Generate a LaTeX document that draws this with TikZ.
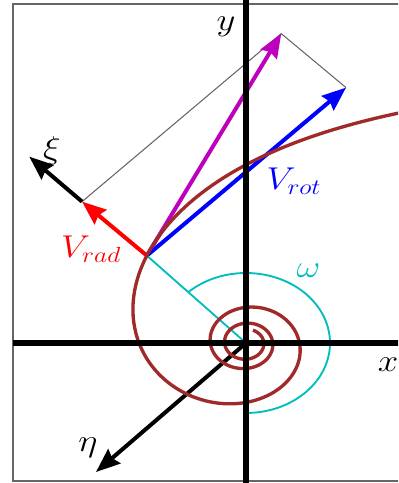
\documentclass[tikz,border=0pt]{standalone}
\usepackage{tikz}
\usepackage{xcolor}
\usetikzlibrary{arrows.meta, calc}
\definecolor{spiralRed}{RGB}{160,42,42}
\definecolor{omegaCyan}{RGB}{0,190,190}
\definecolor{sumMagenta}{RGB}{190,0,190}
\newcommand{\widelbl}[1]{\scalebox{1.33}[1.14]{#1}}

\begin{document}
\begin{tikzpicture}[x=90pt, y=75pt,
  vec/.style={line width=3pt, -{Stealth[length=18pt, width=14pt, inset=2pt]}},
  axis/.style={line width=4.2pt},
  guide/.style={line width=0.8pt, black!60},
  lbl/.style={font=\huge, inner sep=0pt},
]
  \useasboundingbox (-2.05,-1.40) rectangle (1.267,3.43);
  \clip (-2.05,-1.40) rectangle (1.267,3.43);
  \draw[line width=1pt, black!60] (-1.942,-1.38) rectangle (1.5,3.39);

  \coordinate (O) at (0,0);
  \coordinate (P) at (133.4:1.2026);
  \coordinate (radTip) at ($(P)+(-0.54,0.54)$);
  \coordinate (rotTip) at ($(P)+(1.66,1.68)$);
  \coordinate (sumTip) at ($(radTip)+(rotTip)-(P)$);
  \coordinate (xiTip) at ($(radTip)+(-0.44,0.45)$);
  \coordinate (etaTip) at (-1.25,-1.29);
  \coordinate (xL) at (-1.942,0);
  \coordinate (xR) at (1.3,0);
  \coordinate (yB) at (0,-1.45);
  \coordinate (yT) at (0,3.45);

  \draw[guide] (radTip) -- (sumTip) -- (rotTip);
  \draw[vec, sumMagenta] (P) -- (sumTip);
  \draw[vec, blue] (P) -- (rotTip);
  \draw[vec, red] (P) -- (radTip);
  \draw[vec, black] (radTip) -- (xiTip);
  \draw[vec, black] (O) -- (etaTip);

  \draw[omegaCyan, line width=1.4pt] (O) -- (P);
  \draw[omegaCyan, line width=1.4pt] plot[domain=133.4:-90, samples=80] ({0.7*cos(\x)},{0.7*sin(\x)});
  \draw[spiralRed, line width=2.5pt] plot[domain=0.95:20, samples=500, smooth] ({2.8*cos(\x r)/\x},{2.8*sin(\x r)/\x});

  \draw[axis] (xL) -- (xR);
  \draw[axis] (yB) -- (yT);

  \node[lbl] (yLbl) at (-0.167,3.16) {\widelbl{$y$}};
  \node[lbl] (xLbl) at (1.185,-0.22) {\widelbl{$x$}};
  \node[lbl] (xiLbl) at (-1.617,1.92) {\widelbl{$\xi$}};
  \node[lbl] (etaLbl) at (-1.317,-1.05) {\widelbl{$\eta$}};
  \node[lbl, blue] (rotLbl) at (0.40,1.62) {\widelbl{$V_{rot}$}};
  \node[lbl, red] (radLbl) at (-1.29,0.94) {\widelbl{$V_{rad}$}};
  \node[lbl, omegaCyan] (omegaLbl) at (0.52,0.72) {\widelbl{$\omega$}};
\end{tikzpicture}
\end{document}
